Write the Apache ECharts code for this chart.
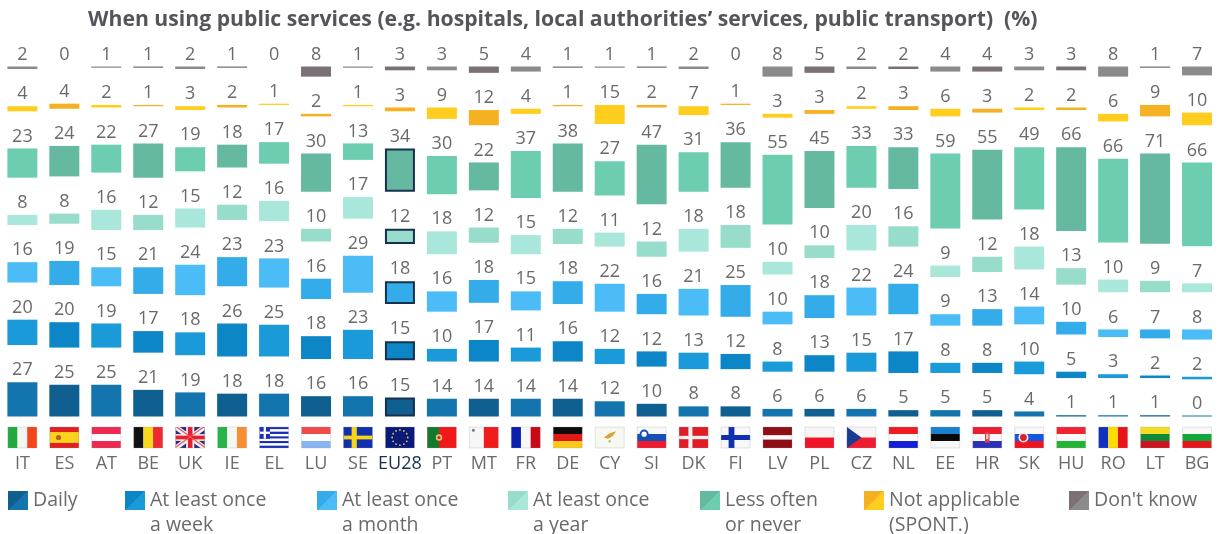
<!DOCTYPE html>
<html>
<head>
<meta charset="utf-8">
<style>html,body{margin:0;padding:0;background:#fff}#c{width:1220px;height:534px}</style>
<script src="https://cdn.jsdelivr.net/npm/echarts@6/dist/echarts.min.js"></script>
</head>
<body>
<div id="c"></div>
<script>
const titleText = "When using public services (e.g. hospitals, local authorities’ services, public transport)  (%)";
const categories = ["IT","ES","AT","BE","UK","IE","EL","LU","SE","EU28","PT","MT","FR","DE","CY","SI","DK","FI","LV","PL","CZ","NL","EE","HR","SK","HU","RO","LT","BG"];
const daily    = [27,25,25,21,19,18,18,16,16,15,14,14,14,14,12,10,8,8,6,6,6,5,5,5,4,1,1,1,0];
const weekly   = [20,20,19,17,18,26,25,18,23,15,10,17,11,16,12,12,13,12,8,13,15,17,8,8,10,5,3,2,2];
const monthly  = [16,19,15,21,24,23,23,16,29,18,16,18,15,18,22,16,21,25,10,18,22,24,9,13,14,10,6,7,8];
const yearly   = [8,8,16,12,15,12,16,10,17,12,18,12,15,12,11,12,18,18,10,10,20,16,9,12,18,13,10,9,7];
const never    = [23,24,22,27,19,18,17,30,13,34,30,22,37,38,27,47,31,36,55,45,33,33,59,55,49,66,66,71,66];
const notAppl  = [4,4,2,1,3,2,1,2,1,3,9,12,4,1,15,2,7,1,3,3,2,3,6,3,2,2,6,9,10];
const dontKnow = [2,0,1,1,2,1,0,8,1,3,3,5,4,1,1,1,2,0,8,5,2,2,4,4,3,3,8,1,7];

const rows = [
  {name:"Daily", values:daily, light:"#1474ad", dark:"#0f5f91", lx:8, frame:true},
  {name:"At least once\na week", values:weekly, light:"#1a9ad9", dark:"#0c86c7", lx:125, frame:true},
  {name:"At least once\na month", values:monthly, light:"#4bbcf6", dark:"#33ace9", lx:317, frame:true},
  {name:"At least once\na year", values:yearly, light:"#a8e7d9", dark:"#98dccb", lx:508, frame:true},
  {name:"Less often\nor never", values:never, light:"#6dcdb1", dark:"#65b9a1", lx:700, frame:true},
  {name:"Not applicable\n(SPONT.)", values:notAppl, light:"#ffcd1e", dark:"#f6b122", lx:864, frame:false},
  {name:"Don't know", values:dontKnow, light:"#8b8b8b", dark:"#7b7075", lx:1069, frame:false}
];
const euIndex = categories.indexOf("EU28");
const TEXT = "#6a6a6a", NAVY = "#16304f";
const GAP_UNITS = 29.3;
const FONT = '"Open Sans", "Noto Sans", sans-serif';

function hs(...c){return c.map((col,i)=>['r',col,0,i/c.length,1,1/c.length]);}
function vs(...c){return c.map((col,i)=>['r',col,i/c.length,0,1/c.length,1]);}
const eu = [['r','#0a1a7a',0,0,1,1]];
for(let k=0;k<12;k++){const a=k*Math.PI/6;eu.push(['c','#e8d040',.5+.27*Math.cos(a),.5+.36*Math.sin(a),.9]);}
const flags = {
 IT:vs('#22aa3f','#f4f4f0','#f4441c'),
 ES:[['r','#e02020',0,0,1,1],['r','#fbd21e',0,.24,1,.52],['c','#b5651d',.3,.5,2.6]],
 AT:hs('#ee2a50','#ffffff','#ee2a50'),
 BE:vs('#111111','#f8d81c','#ee2a30'),
 UK:[['r','#2a2a78',0,0,1,1],['p','#f4f4f4',[[0,0],[.14,0],[1,.86],[1,1],[.86,1],[0,.14]]],['p','#f4f4f4',[[1,0],[.86,0],[0,.86],[0,1],[.14,1],[1,.14]]],['r','#f4f4f4',.36,0,.28,1],['r','#f4f4f4',0,.34,1,.32],['r','#e8202e',.42,0,.16,1],['r','#e8202e',0,.41,1,.18],['p','#e8505e',[[0,0],[.07,0],[1,.93],[1,1]]],['p','#e8505e',[[1,0],[.93,0],[0,.93],[0,1]]]],
 IE:vs('#28b44a','#f6f6f2','#f98f34'),
 EL:[...hs('#1c2fb4','#fff','#1c2fb4','#fff','#1c2fb4','#fff','#1c2fb4','#fff','#1c2fb4'),['r','#1c2fb4',0,0,.36,.56],['r','#fff',.14,0,.08,.56],['r','#fff',0,.22,.36,.11]],
 LU:hs('#f24a4a','#fdfdfd','#86b4f0'),
 SE:[['r','#1030b0',0,0,1,1],['r','#f6d616',.28,0,.18,1],['r','#f6d616',0,.41,1,.18]],
 EU28:eu,
 PT:[['r','#f01818',0,0,1,1],['r','#127a2e',0,0,.4,1],['c','#e8c070',.4,.5,3.2],['c','#b03030',.4,.5,1.6]],
 MT:[['r','#f6f6f6',0,0,.5,1],['r','#f01c1c',.5,0,.5,1],['c','#777777',.14,.15,1.5]],
 FR:vs('#0c1eb0','#f8f8f8','#c80a16'),
 DE:hs('#0c0c0c','#e01818','#fbc81c'),
 CY:[['r','#f8f8f2',0,0,1,1],['p','#e0a030',[[.3,.5],[.5,.3],[.72,.2],[.6,.44],[.44,.56]]],['c','#b0c890',.5,.68,1.4]],
 SI:[...hs('#f8f8f8','#1450b8','#ee1c2c'),['c','#1450b8',.24,.34,4.6],['c','#ffffff',.24,.34,2.6]],
 DK:[['r','#e01c24',0,0,1,1],['r','#f4f4f4',.32,0,.14,1],['r','#f4f4f4',0,.42,1,.16]],
 FI:[['r','#f8f8f8',0,0,1,1],['r','#1030b0',.26,0,.2,1],['r','#1030b0',0,.38,1,.24]],
 LV:[['r','#8e0f16',0,0,1,.4],['r','#fbfbfb',0,.4,1,.2],['r','#8e0f16',0,.6,1,.4]],
 PL:hs('#f6f6f6','#f01428'),
 CZ:[...hs('#f6f6f6','#ee1c30'),['p','#1a3c8e',[[0,0],[.5,.5],[0,1]]]],
 NL:hs('#f01c24','#fbfbfb','#1420d8'),
 EE:hs('#1a80d0','#0a0a0a','#f8f8f8'),
 HR:[...hs('#ee1c30','#f8f8f8','#2c30b8'),['r','#d84050',.42,.25,.16,.5],['r','#f4c8c8',.46,.34,.08,.24]],
 SK:[...hs('#f8f8f8','#1458e0','#ee1420'),['c','#e8f0ff',.3,.5,5],['c','#e02020',.3,.5,3.4]],
 HU:hs('#f02430','#fbfbfb','#24b434'),
 RO:vs('#1030c0','#fddc00','#e8141c'),
 LT:hs('#f6dc20','#108a38','#cc1420'),
 BG:hs('#f8f8f8','#10a838','#e8141c')
};

function renderFlag(params, api){
  const idx = api.value(0);
  const code = categories[idx];
  const cs = params.coordSys;
  const w = 29, h = cs.height;
  const x0 = api.coord([idx,0])[0] - w/2, y0 = cs.y;
  const children = [];
  (flags[code]||[]).forEach(s=>{
    if(s[0]==='r') children.push({type:'rect',shape:{x:x0+s[2]*w,y:y0+s[3]*h,width:s[4]*w,height:s[5]*h},style:{fill:s[1]}});
    else if(s[0]==='c') children.push({type:'circle',shape:{cx:x0+s[2]*w,cy:y0+s[3]*h,r:s[4]},style:{fill:s[1]}});
    else children.push({type:'polygon',shape:{points:s[2].map(p=>[x0+p[0]*w,y0+p[1]*h])},style:{fill:s[1]}});
  });
  children.push({type:'rect',shape:{x:x0,y:y0,width:w,height:h},style:{fill:'none',stroke:'rgba(150,150,150,0.25)',lineWidth:1}});
  return {type:'group',children};
}

const series = [];
rows.forEach((r,ri)=>{
  series.push({
    name:r.name, type:'bar', stack:'all', barWidth:30, barMinHeight:1,
    itemStyle:{color:r.light},
    data:r.values.map((v,i)=>({
      value:v,
      itemStyle: Object.assign({color: i%2===0 ? r.light : r.dark},
        (i===euIndex && r.frame) ? {borderColor:NAVY,borderWidth:2} : {})
    })),
    label:{show:true,position:'top',distance:3,color:TEXT,fontFamily:FONT,fontSize:18,formatter:p=>String(p.value)},
    emphasis:{disabled:true}, animation:false
  });
  if(ri<rows.length-1){
    series.push({
      name:'gap'+ri, type:'bar', stack:'all', barWidth:30, silent:true,
      itemStyle:{color:'transparent'}, data:categories.map(()=>GAP_UNITS),
      emphasis:{disabled:true}, animation:false
    });
  }
});
series.push({
  type:'custom', name:'flags', xAxisIndex:1, yAxisIndex:1, silent:true, animation:false,
  renderItem:renderFlag, data:categories.map((c,i)=>[i,0]), encode:{x:0,y:1}
});

function split(a,b){return new echarts.graphic.LinearGradient(0,0,1,1,[{offset:0,color:a},{offset:.5,color:a},{offset:.5,color:b},{offset:1,color:b}]);}

const legends = rows.map(r=>{
  const two = r.name.indexOf('\n')>=0;
  return {
    show:true, data:[{name:r.name,itemStyle:{color:split(r.dark,r.light)}}], icon:'rect',
    left:r.lx, top: two ? 463 : 488, itemWidth:20, itemHeight:19, itemGap:0, padding:0,
    selectedMode:false,
    formatter:n=> two ? '\n'+n : n,
    textStyle:{color:TEXT,fontFamily:FONT,fontSize:19.5,lineHeight:25}
  };
});

const chart = echarts.init(document.getElementById('c'),null,{renderer:'canvas'});
chart.setOption({
  animation:false, backgroundColor:'#fff',
  title:{text:titleText,left:88,top:9,padding:0,textStyle:{color:'#57535a',fontFamily:FONT,fontWeight:'bold',fontSize:21.2}},
  legend:legends,
  grid:[{left:1.4,width:1216.6,top:66.5,height:350},{left:1.4,width:1216.6,top:427,height:21}],
  xAxis:[
    {type:'category',gridIndex:0,data:categories,show:false},
    {type:'category',gridIndex:1,data:categories.map(c=>c==='EU28'?{value:c,textStyle:{color:NAVY}}:c),
     axisLine:{show:false},axisTick:{show:false},
     axisLabel:{interval:0,margin:7,color:TEXT,fontFamily:FONT,fontSize:18}}
  ],
  yAxis:[
    {type:'value',gridIndex:0,min:0,max:100+6*GAP_UNITS,show:false},
    {type:'value',gridIndex:1,min:0,max:1,show:false}
  ],
  series
});
</script>
</body>
</html>
